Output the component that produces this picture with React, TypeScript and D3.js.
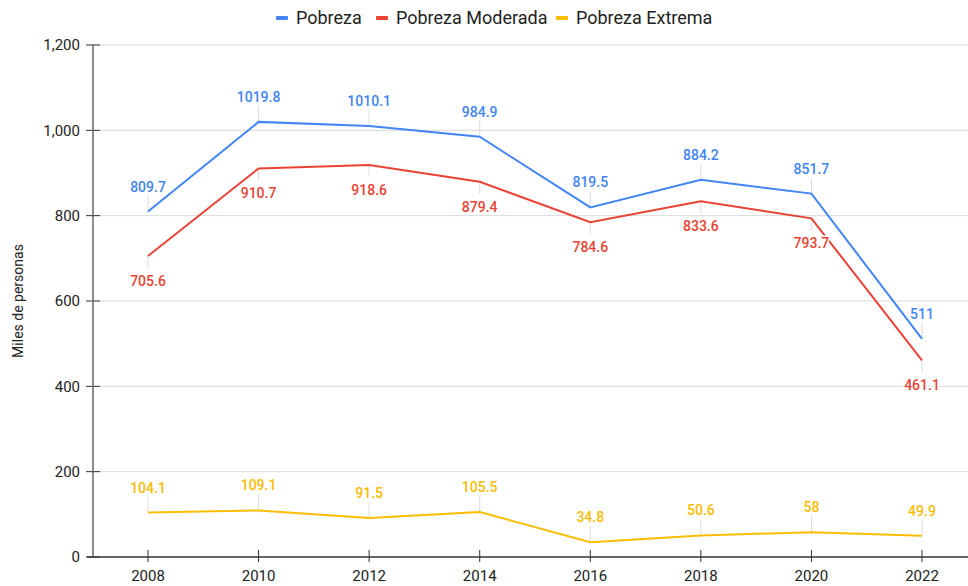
import * as d3 from "d3";

const years = [2008, 2010, 2012, 2014, 2016, 2018, 2020, 2022];
const pobreza = [809.7, 1019.8, 1010.1, 984.9, 819.5, 884.2, 851.7, 511];
const moderada = [705.6, 910.7, 918.6, 879.4, 784.6, 833.6, 793.7, 461.1];
const extrema = [104.1, 109.1, 91.5, 105.5, 34.8, 50.6, 58, 49.9];
const yTicks = [0, 200, 400, 600, 800, 1000, 1200];

const series = [
  { name: "Pobreza", values: pobreza, color: "#4285F4", below: false },
  { name: "Pobreza Moderada", values: moderada, color: "#EA4335", below: true },
  { name: "Pobreza Extrema", values: extrema, color: "#FBBC04", below: false },
];

const W = 968;
const H = 586;
const left = 93;
const top = 45;
const bottom = 557;

export default function App() {
  const x = d3.scaleLinear([2008, 2022], [148, 922]);
  const y = d3.scaleLinear([0, 1200], [bottom, top]);
  const line = d3
    .line<number>()
    .x((_, i) => x(years[i]))
    .y((d) => y(d));
  const fmt = d3.format(",");

  // legend positions
  const legendX = [276, 376, 556];

  return (
    <svg
      width={W}
      height={H}
      style={{ position: "absolute", left: 0, top: 0, fontFamily: "Roboto, sans-serif" }}
    >
      <rect width={W} height={H} fill="#fff" />
      {/* gridlines */}
      {yTicks.map((t) => (
        <g key={t}>
          {t > 0 && <line x1={left} x2={W} y1={y(t)} y2={y(t)} stroke="#d9d9d9" />}
          <line x1={left - 7} x2={left + 7} y1={y(t)} y2={y(t)} stroke="#333" />
          <text x={left - 13} y={y(t)} dy="0.35em" textAnchor="end" fontSize={15} fill="#222">
            {fmt(t)}
          </text>
        </g>
      ))}
      <line x1={left} x2={left} y1={top} y2={bottom} stroke="#666" strokeWidth={1.5} />
      <line x1={left - 6} x2={W} y1={bottom} y2={bottom} stroke="#333" strokeWidth={1.5} />
      {years.map((yr) => (
        <g key={yr}>
          <line x1={x(yr)} x2={x(yr)} y1={bottom - 7} y2={bottom + 5} stroke="#333" />
          <text x={x(yr)} y={bottom + 24} textAnchor="middle" fontSize={15} fill="#222">
            {yr}
          </text>
        </g>
      ))}
      <text
        transform={`translate(23,${(top + bottom) / 2}) rotate(-90)`}
        textAnchor="middle"
        fontSize={14}
        fill="#222"
      >
        Miles de personas
      </text>
      {/* leader lines */}
      {series.map((s) =>
        s.values.map((v, i) => (
          <line
            key={s.name + i}
            x1={x(years[i])}
            x2={x(years[i])}
            y1={y(v)}
            y2={s.below ? y(v) + 12 : y(v) - 16}
            stroke="#dcdcdc"
          />
        ))
      )}
      {series.map((s) => (
        <path key={s.name} d={line(s.values) ?? ""} fill="none" stroke={s.color} strokeWidth={2} />
      ))}
      {series.map((s) =>
        s.values.map((v, i) => (
          <text
            key={s.name + "l" + i}
            x={x(years[i])}
            y={s.below ? y(v) + 30 : y(v) - 20}
            textAnchor="middle"
            fontSize={14}
            fontWeight={500}
            fill={s.color}
            stroke="#fff"
            strokeWidth={3}
            paintOrder="stroke"
          >
            {v}
          </text>
        ))
      )}
      {/* legend */}
      {series.map((s, i) => (
        <g key={s.name} transform={`translate(${legendX[i]},18)`}>
          <rect x={0} y={-2} width={12} height={4} rx={1} fill={s.color} />
          <text x={20} y={0} dy="0.35em" fontSize={18} fill="#222">
            {s.name}
          </text>
        </g>
      ))}
    </svg>
  );
}
